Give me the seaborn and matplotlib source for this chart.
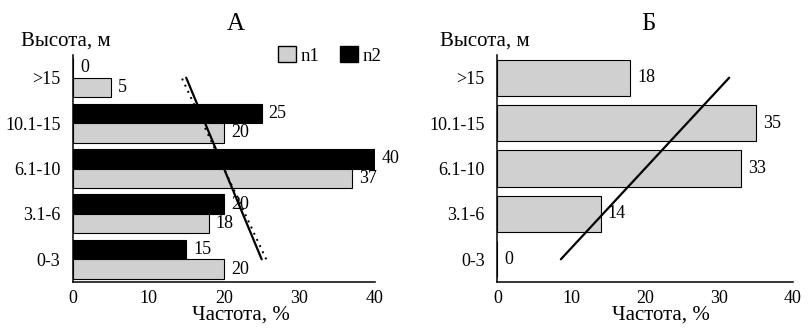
import matplotlib
matplotlib.use("Agg")
import matplotlib.pyplot as plt
from matplotlib import font_manager
from matplotlib.patches import Patch
import numpy as np
import pandas as pd
import seaborn as sns

# height classes, top to bottom as drawn
heights = [">15", "10.1-15", "6.1-10", "3.1-6", "0-3"]

# panel A, frequency (%)
a_n1 = [5, 20, 37, 18, 20]
a_n2 = [0, 25, 40, 20, 15]

# panel Б, frequency (%)
b_n = [18, 35, 33, 14, 0]

gray = "#d0d0d0"

names = sorted({f.name for f in font_manager.fontManager.ttflist})
if "Liberation Serif" not in names:
    raise SystemExit("fonts: " + ", ".join(names))

sns.set_theme(style="white")
plt.rcParams["font.family"] = "serif"
plt.rcParams["font.serif"] = ["Liberation Serif", "DejaVu Serif"]
plt.rcParams["font.size"] = 13
for key in ["text.color", "axes.labelcolor", "xtick.color", "ytick.color"]:
    plt.rcParams[key] = "black"


def trend(values):
    # linear trend like Excel: x = category number 1..5 from the bottom
    vals = np.array(values[::-1], dtype=float)
    idx = np.arange(1, len(vals) + 1)
    k, b = np.polyfit(idx, vals, 1)
    x_ends = k * idx[[0, -1]] + b
    # seaborn y position of bottom and top category
    y_ends = [len(vals) - 1, 0]
    return x_ends, y_ends


def style_axes(ax, ylab_x):
    sns.despine(ax=ax)
    for s in ["left", "bottom"]:
        ax.spines[s].set_color("black")
        ax.spines[s].set_linewidth(1.1)
    ax.set_xlim(0, 40)
    ax.set_ylim(4.5, -0.5)
    ax.set_xticks([0, 10, 20, 30, 40])
    ax.tick_params(axis="x", which="major", direction="out", length=4,
                   width=1, color="black", labelsize=13, pad=2)
    ax.tick_params(axis="y", which="major", length=0, labelsize=13, pad=9)
    ax.set_yticks(np.arange(-0.5, 5, 1), minor=True)
    ax.tick_params(axis="y", which="minor", direction="out", length=4,
                   width=1, color="black")
    ax.set_ylabel("")
    ax.set_xlabel("Частота, %", fontsize=15, labelpad=1)
    ax.xaxis.set_label_coords(0.555, -0.105)
    ax.text(ylab_x, 1.02, "Высота, м", transform=ax.transAxes,
            fontsize=15, ha="left", va="bottom")


fig = plt.figure(figsize=(8.08, 3.36), dpi=100)
ax1 = fig.add_axes([0.0903, 0.1607, 0.3737, 0.6756])
ax2 = fig.add_axes([0.6155, 0.1607, 0.3656, 0.6756])

# panel A
df_a = pd.DataFrame({
    "height": heights * 2,
    "freq": a_n1 + a_n2,
    "series": ["n1"] * len(heights) + ["n2"] * len(heights),
})
sns.barplot(data=df_a, x="freq", y="height", hue="series",
            order=heights, hue_order=["n2", "n1"],
            palette={"n1": gray, "n2": "black"},
            orient="h", width=0.86, edgecolor="black", linewidth=0.8,
            errorbar=None, legend=False, ax=ax1)
for cont in ax1.containers:
    ax1.bar_label(cont, padding=5, fontsize=13)

x1, y1 = trend(a_n1)
x2, y2 = trend(a_n2)
ax1.plot(x1, y1, color="black", lw=1.4, ls=(0, (1, 2.5)))
ax1.plot(x2, y2, color="black", lw=1.6)
style_axes(ax1, -0.172)
ax1.set_title("А", fontsize=18, pad=18, x=0.54)
ax1.legend(handles=[Patch(facecolor=gray, edgecolor="black", label="n1"),
                    Patch(facecolor="black", edgecolor="black", label="n2")],
           ncol=2, frameon=False, loc="lower right",
           bbox_to_anchor=(1.045, 0.925), fontsize=13.5,
           handlelength=1.0, handleheight=0.9, handletextpad=0.2,
           columnspacing=1.1, borderaxespad=0)

# panel Б
df_b = pd.DataFrame({"height": heights, "freq": b_n})
sns.barplot(data=df_b, x="freq", y="height", order=heights,
            color=gray, saturation=1, orient="h", width=0.8,
            edgecolor="black", linewidth=0.8, errorbar=None, ax=ax2)
for cont in ax2.containers:
    ax2.bar_label(cont, padding=5, fontsize=13)
xb, yb = trend(b_n)
ax2.plot(xb, yb, color="black", lw=1.6)
style_axes(ax2, -0.193)
ax2.set_title("Б", fontsize=18, pad=18, x=0.51)

fig.savefig("out.png", dpi=100)
